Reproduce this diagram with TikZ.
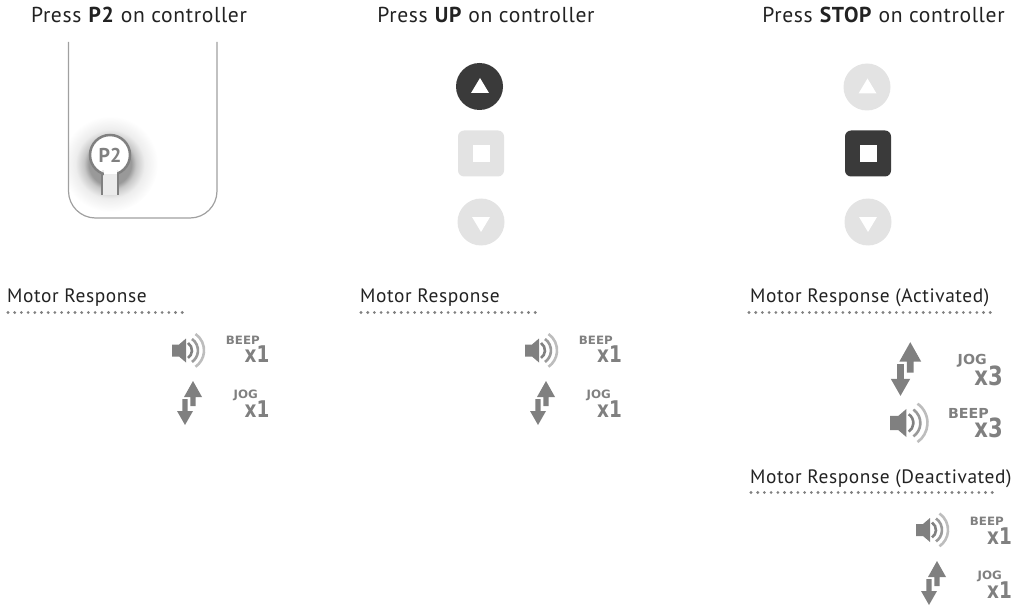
\documentclass[tikz,border=0pt]{standalone}
\usepackage{fontspec}
\setmainfont{PT Sans}
\newfontfamily\spaced[LetterSpace=3]{PT Sans}
\newfontfamily\djv{DejaVu Sans}
\definecolor{ic}{HTML}{808080}
\definecolor{fr}{HTML}{A0A0A0}
\definecolor{lg}{HTML}{E3E3E3}
\definecolor{dk}{HTML}{3A3A3A}
\definecolor{tx}{HTML}{222222}
\definecolor{wv}{HTML}{BDBDBD}
\definecolor{wm}{HTML}{9A9A9A}
\pgfdeclareradialshading{glowp}{\pgfpoint{0bp}{0bp}}{color(0bp)=(black!40); color(11bp)=(black!40); color(13.5bp)=(black!22); color(18bp)=(black!7); color(25bp)=(white); color(50bp)=(white)}
\tikzset{
 x=1pt,y=-1pt,
 head/.style={font=\spaced\fontsize{21.6}{23}\selectfont,text=tx,inner sep=0pt,anchor=center},
 mr/.style={font=\spaced\fontsize{19.4}{21}\selectfont,text=tx,inner sep=0pt,anchor=base west},
 dotline/.style={draw=black!50,line width=3.1pt,line cap=round,dash pattern=on 0pt off 6.7pt},
 small/.style={font=\djv\bfseries\fontsize{11.5}{12}\selectfont,text=ic,inner sep=0pt,anchor=base east,transform shape,xscale=1.03},
 big/.style={font=\djv\bfseries\fontsize{23}{25}\selectfont,text=ic,inner sep=0pt,anchor=base east,transform shape,xscale=.8},
 speaker/.pic={
  \fill[ic] (0,-6) -- (7,-6) -- (14,-12) -- (14,12) -- (7,6) -- (0,6) -- cycle;
  \draw[ic,line width=2.6pt] (16,-7.5) arc[start angle=-56,end angle=56,radius=9];
  \draw[wm,line width=2.6pt] (20,-11.5) arc[start angle=-55,end angle=55,radius=14];
  \draw[wv,line width=2.6pt] (23.5,-16.5) arc[start angle=-55,end angle=55,radius=20];
 },
 updown/.pic={
  \fill[ic] (8,-22) -- (17,-6) -- (10.7,-6) -- (10.7,3) -- (5.3,3) -- (5.3,-6) -- (-1,-6) -- cycle;
  \fill[ic] (0,22) -- (8,8) -- (2.7,8) -- (2.7,-4) -- (-2.7,-4) -- (-2.7,8) -- (-8,8) -- cycle;
 },
}
\begin{document}
\begin{tikzpicture}
\useasboundingbox (0,0) rectangle (1018,607);
% headers
\node[head] (h1) at (139,15) {Press \textbf{P2} on controller};
\node[head] (h2) at (486,15) {Press \textbf{UP} on controller};
\node[head] (h3) at (883.5,15) {Press \textbf{STOP} on controller};
% controller
\shade[shading=glowp] (110,164) circle[radius=48];
\fill[white] (60,42) rectangle (68,230);
\fill[white] (60,219) rectangle (170,230);
\draw[fr,line width=1.2pt] (68.5,42) -- (68.5,191) arc[start angle=180,end angle=90,radius=27] -- (190,218) arc[start angle=90,end angle=0,radius=27] -- (217,42);
\fill[white] (110,155) circle[radius=20];
\fill[black!8] (102,170) rectangle (118,195);
\draw[ic,line width=2.5pt] (110,155) circle[radius=20];
\fill[white] (103.5,165) rectangle (116.5,176);
\fill[black!8] (103.5,174) rectangle (116.5,195);
\draw[ic,line width=2.5pt] (102,173.5) -- (102,195);
\draw[ic,line width=2.5pt] (118,173.5) -- (118,195);
\node[font=\bfseries\fontsize{20}{20}\selectfont,text=ic,inner sep=0] (p2) at (110,155) {P2};
% buttons, middle column
\node[circle,fill=dk,minimum size=47pt,inner sep=0] (u1) at (479.5,86.5) {};
\fill[white] (480,78) -- (489,93) -- (471,93) -- cycle;
\node[rectangle,rounded corners=6pt,fill=lg,minimum size=46pt,inner sep=0] (s1) at (481,153.5) {};
\fill[white] (472.5,145) rectangle (489.5,162);
\node[circle,fill=lg,minimum size=47pt,inner sep=0] (d1) at (481,222) {};
\fill[white] (472,217) -- (490,217) -- (481,232) -- cycle;
% buttons, right column
\node[circle,fill=lg,minimum size=47pt,inner sep=0] (u2) at (867,87) {};
\fill[white] (867.5,78.5) -- (876.5,93.5) -- (858.5,93.5) -- cycle;
\node[rectangle,rounded corners=6pt,fill=dk,minimum size=46pt,inner sep=0] (s2) at (868,153.5) {};
\fill[white] (859.5,145) rectangle (876.5,162);
\node[circle,fill=lg,minimum size=47pt,inner sep=0] (d2) at (868,222) {};
\fill[white] (859,217) -- (877,217) -- (868,232) -- cycle;
% motor response labels
\node[mr] (m1) at (7,302) {Motor Response};
\node[mr] (m2) at (360,302) {Motor Response};
\node[mr] (m3) at (750,302) {Motor Response (Activated)};
\node[mr] (m4) at (750,483) {Motor Response (Deactivated)};
\draw[dotline] (8,312.5) -- (187,312.5);
\draw[dotline] (361,312.5) -- (540,312.5);
\draw[dotline] (749,312.5) -- (996,312.5);
\draw[dotline] (751,492.5) -- (996,492.5);
% group 1
\pic at (172,350.5) {speaker};
\pic at (185,403) {updown};
\node[small] (b1) at (260,344) {BEEP};
\node[big] (bx1) at (269.5,362) {x1};
\node[small] (j1) at (258,398) {JOG};
\node[big] (jx1) at (269.5,417) {x1};
% group 2
\pic at (525,350.5) {speaker};
\pic at (538,403) {updown};
\node[small] (b2) at (613,344) {BEEP};
\node[big] (bx2) at (622,362) {x1};
\node[small] (j2) at (611,398) {JOG};
\node[big] (jx2) at (622,417) {x1};
% group 3
\pic[scale=1.22] at (900.5,369) {updown};
\pic[scale=1.17] at (890,423) {speaker};
\node[small,scale=1.2] (j3) at (987,364) {JOG};
\node[big,scale=1.15] (jx3) at (1003,385) {x3};
\node[small,scale=1.2] (b3) at (989,418) {BEEP};
\node[big,scale=1.15] (bx3) at (1003,437.5) {x3};
% group 4
\pic at (916,530) {speaker};
\pic at (929,583) {updown};
\node[small] (b4) at (1004,525) {BEEP};
\node[big] (bx4) at (1012,544) {x1};
\node[small] (j4) at (1002,579) {JOG};
\node[big] (jx4) at (1012,598.5) {x1};
\end{tikzpicture}
\end{document}
